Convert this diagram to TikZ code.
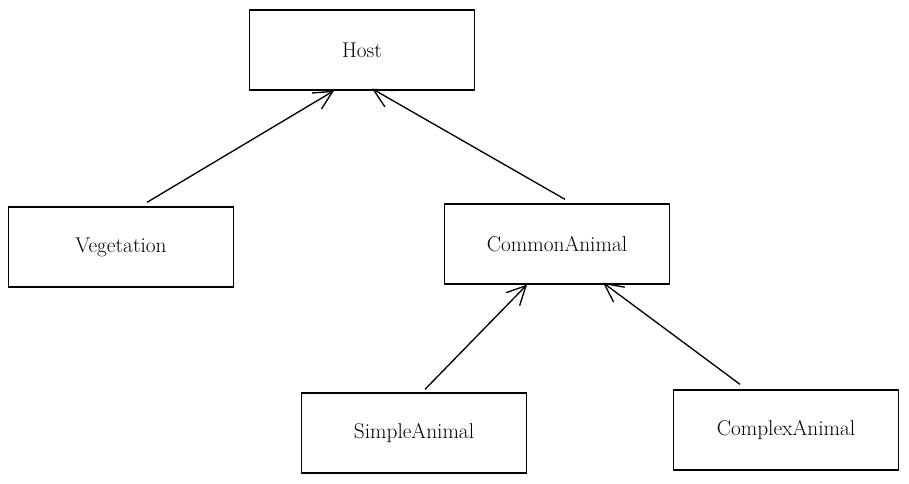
\documentclass[tikz,border=0pt]{standalone}
\usetikzlibrary{arrows.meta,calc}

\tikzset{every picture/.style={line width=0.75pt}}
\tikzset{classbox/.style={draw, line width=1pt, minimum width=169pt, minimum height=60pt, inner sep=0.75pt, font=\fontsize{16}{19}\selectfont}}
\tikzset{inherit/.style={line width=1pt, -{Straight Barb[length=14pt,width=14pt,line width=1pt]}}}

\begin{document}
\begin{tikzpicture}[x=0.75pt,y=0.75pt,yscale=-1,xscale=1]
\useasboundingbox (0,0) rectangle (909,483); %set diagram size 909 x 483

% Class Boxes
\node [classbox] (host) at (362,50) {Host};
\node [classbox] (vegetation) at (121,247) {Vegetation};
\node [classbox] (common) at (557,244) {CommonAnimal};
\node [classbox] (simple) at (414,433) {SimpleAnimal};
\node [classbox] (complex) at (786,430) {ComplexAnimal};

% Arrows
\draw [inherit] ($(vegetation.north)+(26,-4)$) -- ($(host.south)+(-28,0)$);
\draw [inherit] ($(common.north)+(8,-4)$) -- ($(host.south)+(10,-2)$);
\draw [inherit] ($(simple.north)+(11,-3)$) -- ($(common.south)+(-30,0)$);
\draw [inherit] ($(complex.north)+(-46,-5)$) -- ($(common.south)+(46,-2)$);

\end{tikzpicture}
\end{document}
